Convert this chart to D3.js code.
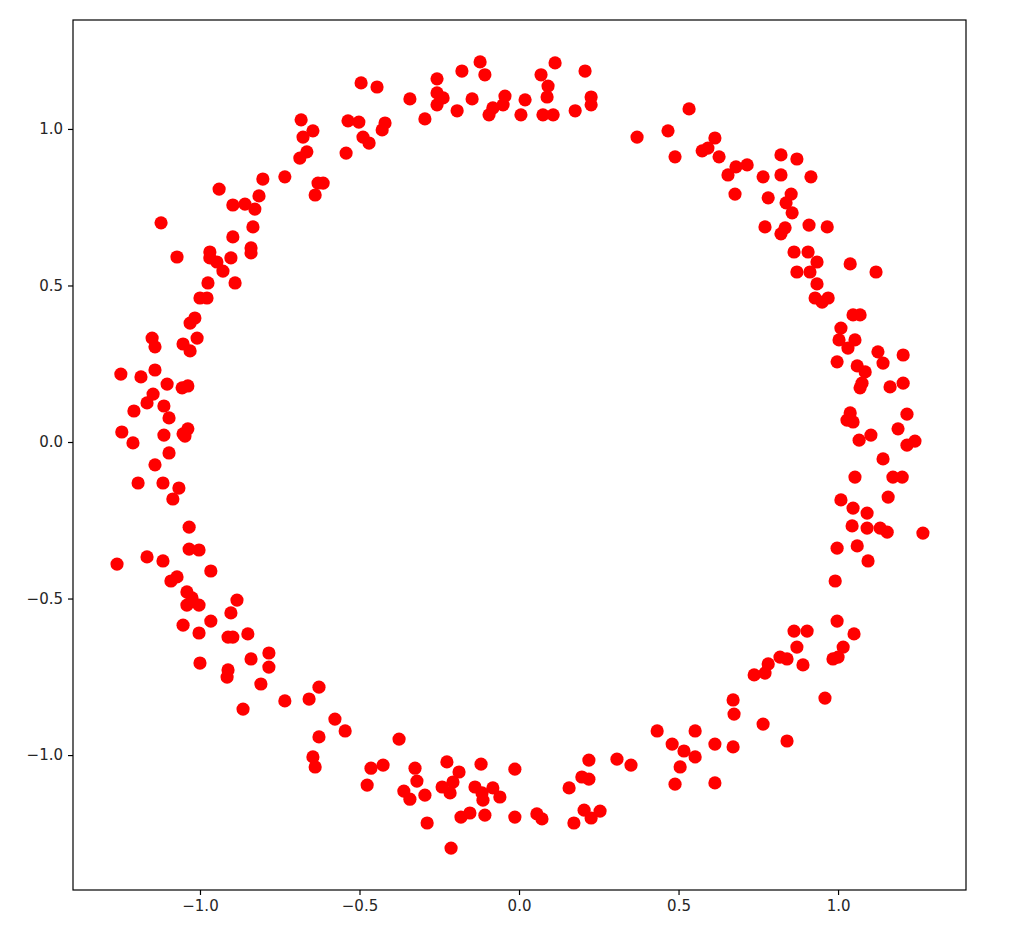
<!DOCTYPE html>
<html>
<head>
<meta charset="utf-8">
<script src="https://cdn.jsdelivr.net/npm/d3@7"></script>
<style>
  html, body { margin: 0; padding: 0; background: #fff; }
  svg { display: block; }
  .axis text { font-family: "DejaVu Sans", sans-serif; font-size: 15px; fill: #262626; }
  .axis path, .axis line { stroke: #000; }
</style>
</head>
<body>
<svg id="chart" width="1020" height="940"></svg>
<script>
// Point coordinates (data units)
const xValues = [
  -0.495,-0.445,-0.342,-0.257,-0.257,-0.238,-0.257,-0.122,-0.147,-0.194,
  -0.295,-0.683,-0.646,-0.677,-0.665,-0.687,-0.536,-0.502,-0.420,-0.429,
  -0.489,-0.470,-0.542,-0.803,-0.734,-0.630,-0.614,-0.639,-0.815,-0.897,
  -0.859,-0.828,-0.834,-0.897,-0.940,-1.122,-1.072,-0.969,-0.969,-0.947,
  -0.903,-0.840,-0.840,-0.928,-0.975,-0.890,-1.000,-0.978,-1.031,-1.016,
  -1.009,-1.150,-1.141,-1.053,-1.031,-1.248,-1.185,-1.141,-0.107,-0.044,
  -0.050,-0.082,-0.094, 0.019, 0.006, 0.069, 0.113, 0.091, 0.088, 0.075,
   0.107, 0.176, 0.207, 0.226, 0.226, 0.370, 0.467, 0.533, 0.489, 0.614,
   0.574, 0.592, 0.627, 0.655, 0.680, 0.677,-0.179, 0.715, 0.765, 0.821,
   0.871, 0.821, 0.915, 0.781, 0.853, 0.837, 0.856, 0.771, 0.834, 0.821,
   0.909, 0.966, 0.862, 0.906, 0.934, 0.871, 0.912, 0.934, 0.928, 0.969,
   0.950, 1.038, 1.119, 1.047, 1.069, 1.009, 1.003, 1.031, 1.053, 0.997,
   1.125, 1.141, 1.204, 1.060, 1.085, 1.075, 1.069, 1.163, 1.204, 1.038,
   1.028, 1.047, 1.216, 1.188, 1.066, 1.103, 1.216, 1.241, 1.141, 1.053,
   1.172, 1.201, 1.157, 1.009, 1.047, 1.091, 1.044, 1.091, 1.132, 1.154,
   1.266, 0.997, 1.060, 1.094, 0.991, 0.997, 1.050, 1.016, 0.984, 1.000,
   0.862, 0.903, 0.871, 0.890, 0.818, 0.840, 0.781, 0.771, 0.737, 0.959,
   0.671, 0.674, 0.765, 0.840, 0.433, 0.552, 0.480, 0.517, 0.552, 0.614,
   0.671, 0.505, 0.307, 0.351, 0.489, 0.614, 0.219, 0.197, 0.219, 0.157,
   0.204, 0.254, 0.226, 0.172,-0.013,-0.119,-0.226,-0.188,-0.207,-0.241,
  -0.216,-0.138,-0.116,-0.082,-0.060,-0.113,-0.182,-0.154,-0.107,-0.013,
   0.056, 0.072,-0.295,-0.326,-0.320,-0.288,-0.213,-0.912,-0.915,-0.840,
  -0.784,-0.784,-0.809,-0.865,-0.734,-0.658,-0.627,-0.577,-0.545,-0.627,
  -0.646,-0.639,-0.376,-0.464,-0.426,-0.476,-0.361,-0.342,-1.034,-1.034,
  -1.003,-1.166,-1.116,-1.260,-0.966,-1.091,-1.072,-1.041,-1.025,-1.041,
  -1.003,-0.884,-0.903,-1.053,-0.966,-1.003,-0.912,-0.897,-0.850,-1.000,
  -1.103,-1.056,-1.038,-1.147,-1.166,-1.207,-1.113,-1.097,-1.245,-1.210,
  -1.113,-1.053,-1.038,-1.047,-1.097,-1.141,-1.194,-1.116,-1.066,-1.085
];
const yValues = [
   1.147, 1.134, 1.096, 1.160, 1.115, 1.099, 1.077, 1.214, 1.096, 1.058,
   1.032, 1.029, 0.994, 0.974, 0.927, 0.907, 1.026, 1.022, 1.019, 0.997,
   0.974, 0.955, 0.923, 0.840, 0.847, 0.827, 0.827, 0.789, 0.786, 0.757,
   0.760, 0.744, 0.687, 0.655, 0.808, 0.700, 0.591, 0.607, 0.588, 0.575,
   0.588, 0.620, 0.604, 0.546, 0.508, 0.508, 0.460, 0.460, 0.380, 0.396,
   0.332, 0.332, 0.304, 0.313, 0.291, 0.217, 0.208, 0.230, 1.173, 1.105,
   1.077, 1.067, 1.045, 1.093, 1.045, 1.173, 1.211, 1.137, 1.102, 1.045,
   1.045, 1.058, 1.185, 1.102, 1.077, 0.974, 0.994, 1.064, 0.911, 0.971,
   0.930, 0.939, 0.911, 0.853, 0.879, 0.792, 1.185, 0.885, 0.847, 0.917,
   0.904, 0.853, 0.847, 0.780, 0.792, 0.764, 0.732, 0.687, 0.684, 0.665,
   0.693, 0.687, 0.607, 0.607, 0.575, 0.543, 0.543, 0.505, 0.460, 0.460,
   0.447, 0.569, 0.543, 0.406, 0.406, 0.364, 0.326, 0.300, 0.326, 0.256,
   0.288, 0.252, 0.278, 0.243, 0.224, 0.188, 0.173, 0.176, 0.188, 0.093,
   0.070, 0.064, 0.089, 0.042, 0.006, 0.022,-0.010, 0.003,-0.054,-0.112,
  -0.112,-0.112,-0.176,-0.185,-0.211,-0.227,-0.268,-0.275,-0.275,-0.288,
  -0.291,-0.339,-0.332,-0.380,-0.444,-0.572,-0.613,-0.655,-0.693,-0.687,
  -0.604,-0.604,-0.655,-0.712,-0.687,-0.693,-0.709,-0.738,-0.744,-0.818,
  -0.824,-0.869,-0.901,-0.955,-0.923,-0.923,-0.965,-0.987,-1.006,-0.965,
  -0.974,-1.038,-1.013,-1.032,-1.093,-1.089,-1.016,-1.070,-1.077,-1.105,
  -1.176,-1.179,-1.201,-1.217,-1.045,-1.029,-1.022,-1.054,-1.086,-1.102,
  -1.121,-1.102,-1.121,-1.105,-1.134,-1.144,-1.198,-1.185,-1.192,-1.198,
  -1.188,-1.204,-1.128,-1.042,-1.083,-1.217,-1.297,-0.728,-0.751,-0.693,
  -0.674,-0.719,-0.773,-0.853,-0.827,-0.821,-0.783,-0.885,-0.923,-0.942,
  -1.006,-1.038,-0.949,-1.042,-1.032,-1.096,-1.115,-1.141,-0.272,-0.342,
  -0.345,-0.367,-0.380,-0.390,-0.412,-0.444,-0.431,-0.479,-0.498,-0.521,
  -0.521,-0.505,-0.546,-0.585,-0.572,-0.610,-0.623,-0.623,-0.613,-0.706,
   0.185, 0.173, 0.179, 0.153, 0.125, 0.099, 0.115, 0.077, 0.032,-0.003,
   0.022, 0.026, 0.042, 0.019,-0.035,-0.073,-0.131,-0.131,-0.147,-0.182
];
const xTicks = [-1.0, -0.5, 0.0, 0.5, 1.0];
const yTicks = [-1.0, -0.5, 0.0, 0.5, 1.0];
const xDomain = [-1.398, 1.401];
const yDomain = [-1.431, 1.348];

const points = xValues.map((x, i) => ({ x: x, y: yValues[i] }));

const margin = { left: 73, top: 20, right: 54, bottom: 50 };
const W = 1020, H = 940;
const plotW = 893, plotH = 870;

const svg = d3.select("#chart");
const g = svg.append("g").attr("transform", `translate(${margin.left},${margin.top})`);

const x = d3.scaleLinear().domain(xDomain).range([0, plotW]);
const y = d3.scaleLinear().domain(yDomain).range([plotH, 0]);

g.append("g").selectAll("circle")
  .data(points)
  .join("circle")
  .attr("cx", d => x(d.x))
  .attr("cy", d => y(d.y))
  .attr("r", 6.6)
  .attr("fill", "#ff0000");

const fmt = d3.format(".1f");

const xAxis = g.append("g")
  .attr("class", "axis")
  .attr("transform", `translate(0,${plotH})`)
  .call(d3.axisBottom(x).tickValues(xTicks).tickFormat(fmt).tickSize(5).tickPadding(5).tickSizeOuter(0));
const yAxis = g.append("g")
  .attr("class", "axis")
  .call(d3.axisLeft(y).tickValues(yTicks).tickFormat(fmt).tickSize(5).tickPadding(5).tickSizeOuter(0));

xAxis.select(".domain").remove();
yAxis.select(".domain").remove();
g.selectAll(".axis line").attr("stroke-width", 1.2);

g.append("rect")
  .attr("x", 0).attr("y", 0)
  .attr("width", plotW).attr("height", plotH)
  .attr("fill", "none")
  .attr("stroke", "#000")
  .attr("stroke-width", 1.2);
</script>
</body>
</html>
